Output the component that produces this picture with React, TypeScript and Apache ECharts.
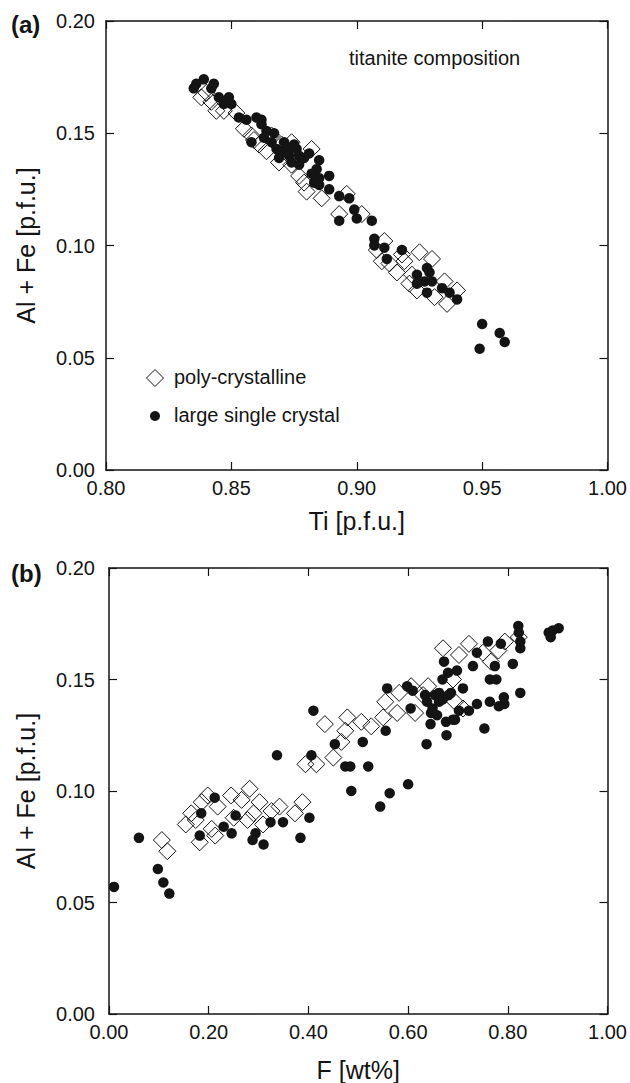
import React, { useEffect, useRef } from "react";
import * as echarts from "echarts";

// Panel (a): Ti vs Al + Fe
const aPolyTi = [0.838, 0.842, 0.844, 0.847, 0.852, 0.855, 0.859, 0.858, 0.864, 0.869, 0.874, 0.874, 0.877, 0.880, 0.882, 0.886, 0.896, 0.893, 0.902, 0.908, 0.911, 0.913, 0.916, 0.919, 0.921, 0.925, 0.924, 0.930, 0.931, 0.935, 0.936, 0.940, 0.922, 0.918, 0.866, 0.861, 0.840, 0.870, 0.879, 0.910];
const aPolyAlFe = [0.166, 0.164, 0.160, 0.160, 0.159, 0.152, 0.147, 0.149, 0.142, 0.137, 0.146, 0.136, 0.131, 0.124, 0.143, 0.121, 0.123, 0.114, 0.114, 0.098, 0.102, 0.092, 0.088, 0.093, 0.083, 0.097, 0.080, 0.094, 0.077, 0.084, 0.074, 0.080, 0.087, 0.096, 0.149, 0.145, 0.168, 0.145, 0.128, 0.093];
const aSingleTi = [0.835, 0.836, 0.839, 0.843, 0.842, 0.845, 0.849, 0.847, 0.850, 0.853, 0.856, 0.860, 0.862, 0.862, 0.864, 0.867, 0.858, 0.863, 0.866, 0.868, 0.871, 0.870, 0.873, 0.876, 0.874, 0.869, 0.879, 0.881, 0.877, 0.885, 0.884, 0.882, 0.885, 0.883, 0.885, 0.889, 0.889, 0.893, 0.897, 0.899, 0.900, 0.893, 0.906, 0.907, 0.907, 0.911, 0.912, 0.918, 0.924, 0.928, 0.929, 0.927, 0.928, 0.924, 0.930, 0.934, 0.937, 0.940, 0.950, 0.949, 0.957, 0.959, 0.873, 0.877, 0.875, 0.869];
const aSingleAlFe = [0.170, 0.172, 0.174, 0.172, 0.170, 0.166, 0.166, 0.163, 0.163, 0.157, 0.156, 0.157, 0.156, 0.154, 0.151, 0.150, 0.146, 0.148, 0.146, 0.143, 0.146, 0.142, 0.140, 0.143, 0.137, 0.139, 0.139, 0.141, 0.136, 0.138, 0.134, 0.132, 0.130, 0.128, 0.127, 0.131, 0.125, 0.122, 0.121, 0.116, 0.112, 0.111, 0.111, 0.103, 0.100, 0.099, 0.094, 0.098, 0.087, 0.090, 0.088, 0.084, 0.079, 0.083, 0.084, 0.081, 0.079, 0.076, 0.065, 0.054, 0.061, 0.057, 0.143, 0.140, 0.145, 0.142];

// Panel (b): F vs Al + Fe
const bPolyF = [0.106, 0.117, 0.154, 0.165, 0.174, 0.182, 0.186, 0.198, 0.206, 0.213, 0.218, 0.245, 0.250, 0.266, 0.282, 0.290, 0.302, 0.309, 0.326, 0.342, 0.373, 0.388, 0.394, 0.416, 0.433, 0.450, 0.466, 0.474, 0.478, 0.506, 0.526, 0.550, 0.554, 0.578, 0.582, 0.606, 0.614, 0.630, 0.640, 0.670, 0.690, 0.702, 0.722, 0.750, 0.766, 0.781, 0.794, 0.822, 0.710, 0.694, 0.278];
const bPolyAlFe = [0.078, 0.073, 0.085, 0.090, 0.087, 0.077, 0.095, 0.098, 0.083, 0.080, 0.093, 0.098, 0.088, 0.096, 0.101, 0.090, 0.095, 0.085, 0.091, 0.093, 0.090, 0.095, 0.112, 0.112, 0.130, 0.115, 0.122, 0.127, 0.133, 0.131, 0.129, 0.133, 0.140, 0.135, 0.144, 0.147, 0.135, 0.143, 0.147, 0.164, 0.150, 0.161, 0.166, 0.162, 0.158, 0.163, 0.167, 0.169, 0.137, 0.140, 0.087];
const bSingleF = [0.010, 0.060, 0.098, 0.109, 0.121, 0.182, 0.185, 0.212, 0.230, 0.246, 0.254, 0.288, 0.294, 0.310, 0.324, 0.337, 0.349, 0.384, 0.402, 0.406, 0.410, 0.453, 0.474, 0.484, 0.486, 0.509, 0.520, 0.544, 0.555, 0.558, 0.563, 0.600, 0.598, 0.605, 0.609, 0.637, 0.634, 0.638, 0.645, 0.646, 0.649, 0.654, 0.662, 0.662, 0.669, 0.672, 0.676, 0.677, 0.680, 0.686, 0.690, 0.694, 0.698, 0.702, 0.710, 0.722, 0.730, 0.738, 0.738, 0.753, 0.760, 0.764, 0.764, 0.774, 0.777, 0.782, 0.786, 0.792, 0.793, 0.810, 0.821, 0.822, 0.825, 0.825, 0.825, 0.882, 0.886, 0.890, 0.902, 0.669, 0.658, 0.681];
const bSingleAlFe = [0.057, 0.079, 0.065, 0.059, 0.054, 0.080, 0.090, 0.097, 0.084, 0.081, 0.089, 0.078, 0.081, 0.076, 0.086, 0.116, 0.086, 0.079, 0.088, 0.116, 0.136, 0.121, 0.111, 0.111, 0.100, 0.122, 0.111, 0.093, 0.127, 0.146, 0.099, 0.103, 0.147, 0.137, 0.145, 0.121, 0.143, 0.140, 0.130, 0.135, 0.137, 0.143, 0.140, 0.144, 0.150, 0.158, 0.131, 0.125, 0.153, 0.144, 0.132, 0.132, 0.154, 0.136, 0.146, 0.136, 0.156, 0.162, 0.139, 0.128, 0.167, 0.140, 0.150, 0.156, 0.150, 0.138, 0.166, 0.142, 0.139, 0.157, 0.174, 0.171, 0.167, 0.164, 0.144, 0.171, 0.169, 0.172, 0.173, 0.141, 0.134, 0.143];

const aTicksX = { min: 0.8, max: 1.0, interval: 0.05 };
const bTicksX = { min: 0, max: 1.0, interval: 0.2 };
const yTicks = { min: 0, max: 0.2, interval: 0.05 };

const FONT = "'Liberation Sans', Arial, Helvetica, sans-serif";
const INK = "#141414";

const zip = (xs: number[], ys: number[]) => xs.map((x, i) => [x, ys[i]]);

function axisBase(show: boolean, position: string, margin = 8) {
  return {
    type: "value",
    position,
    axisLine: { show: true, onZero: false, lineStyle: { color: INK, width: 1.5 } },
    axisTick: { show: true, inside: true, length: 8, lineStyle: { color: INK, width: 1.2 } },
    axisLabel: {
      show,
      margin,
      fontSize: 20,
      fontFamily: FONT,
      color: INK,
      formatter: (v: number) => v.toFixed(2),
    },
    splitLine: { show: false },
  };
}

const nameStyle = { fontSize: 25, fontFamily: FONT, color: INK };

export default function App() {
  const ref = useRef<HTMLDivElement>(null);
  useEffect(() => {
    document.body.style.margin = "0";
    if (!ref.current) return;
    const chart = echarts.init(ref.current, undefined, { renderer: "svg" });
    const polyStyle = { color: "rgba(255,255,255,0)", borderColor: INK, borderWidth: 1, opacity: 1 };
    const singleStyle = { color: INK, opacity: 1 };
    chart.setOption({
      animation: false,
      backgroundColor: "#fff",
      textStyle: { fontFamily: FONT },
      grid: [
        { left: 106, top: 21, width: 503, height: 449 },
        { left: 109, top: 568, width: 502, height: 447 },
      ],
      xAxis: [
        {
          ...axisBase(true, "bottom", 8), gridIndex: 0, ...aTicksX,
          name: "Ti [p.f.u.]", nameLocation: "middle", nameGap: 38, nameTextStyle: nameStyle,
        },
        { ...axisBase(false, "top"), gridIndex: 0, ...aTicksX },
        {
          ...axisBase(true, "bottom", 8), gridIndex: 1, ...bTicksX,
          name: "F [wt%]", nameLocation: "middle", nameGap: 43, nameTextStyle: nameStyle,
        },
        { ...axisBase(false, "top"), gridIndex: 1, ...bTicksX },
      ],
      yAxis: [
        {
          ...axisBase(true, "left", 11), gridIndex: 0, ...yTicks,
          name: "Al + Fe [p.f.u.]", nameLocation: "middle", nameGap: 68, nameTextStyle: nameStyle,
        },
        { ...axisBase(false, "right"), gridIndex: 0, ...yTicks },
        {
          ...axisBase(true, "left", 14), gridIndex: 1, ...yTicks,
          name: "Al + Fe [p.f.u.]", nameLocation: "middle", nameGap: 71, nameTextStyle: nameStyle,
        },
        { ...axisBase(false, "right"), gridIndex: 1, ...yTicks },
      ],
      series: [
        {
          name: "poly-crystalline", type: "scatter", xAxisIndex: 0, yAxisIndex: 0,
          symbol: "diamond", symbolSize: 17, itemStyle: polyStyle, data: zip(aPolyTi, aPolyAlFe),
        },
        {
          name: "large single crystal", type: "scatter", xAxisIndex: 0, yAxisIndex: 0,
          symbol: "circle", symbolSize: 10.5, itemStyle: singleStyle, data: zip(aSingleTi, aSingleAlFe),
        },
        {
          name: "poly-crystalline", type: "scatter", xAxisIndex: 2, yAxisIndex: 2,
          symbol: "diamond", symbolSize: 17, itemStyle: polyStyle, data: zip(bPolyF, bPolyAlFe),
        },
        {
          name: "large single crystal", type: "scatter", xAxisIndex: 2, yAxisIndex: 2,
          symbol: "circle", symbolSize: 10.5, itemStyle: singleStyle, data: zip(bSingleF, bSingleAlFe),
        },
      ],
      graphic: [
        { type: "text", left: 11, top: 12, style: { text: "(a)", font: `bold 24px ${FONT}`, fill: INK } },
        { type: "text", left: 11, top: 561, style: { text: "(b)", font: `bold 24px ${FONT}`, fill: INK } },
        { type: "text", left: 349, top: 48, style: { text: "titanite composition", font: `20px ${FONT}`, fill: INK } },
        {
          type: "polygon",
          shape: { points: [[155, 369.5], [163.5, 378], [155, 386.5], [146.5, 378]] },
          style: { fill: "#fff", stroke: INK, lineWidth: 1 },
        },
        { type: "text", left: 174, top: 367, style: { text: "poly-crystalline", font: `20px ${FONT}`, fill: INK } },
        { type: "circle", shape: { cx: 155, cy: 416, r: 5 }, style: { fill: INK } },
        { type: "text", left: 174, top: 405, style: { text: "large single crystal", font: `20px ${FONT}`, fill: INK } },
      ],
    });
    return () => chart.dispose();
  }, []);
  return <div ref={ref} style={{ width: 630, height: 1083 }} />;
}
